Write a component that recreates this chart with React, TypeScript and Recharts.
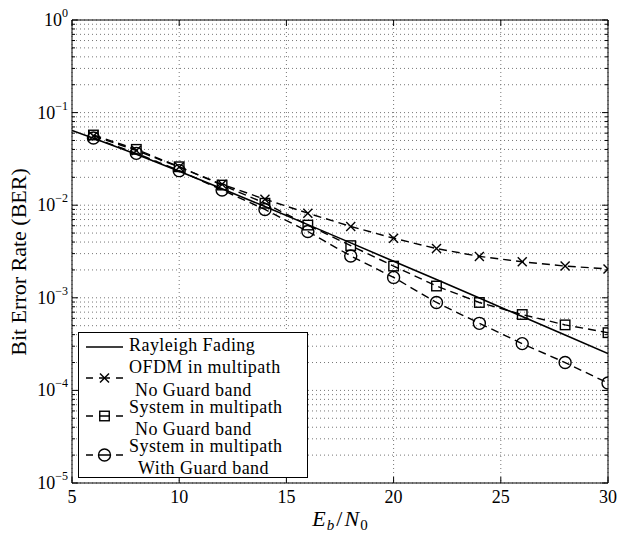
import { LineChart, Line, XAxis, YAxis, CartesianGrid, ReferenceLine } from "recharts";

const FONT = '"Liberation Serif", "Times New Roman", serif';

// chart box: plot area runs x 72..608, y 20..483
const W = 617;
const H = 534;
const PLOT_W = 536;
const PLOT_H = 463;

// Eb/N0 (dB) sample points for the simulated curves
const snrDb = [6, 8, 10, 12, 14, 16, 18, 20, 22, 24, 26, 28, 30];
const ofdmNoGuard = [0.056, 0.039, 0.0258, 0.0168, 0.0116, 0.0082, 0.0059, 0.0044, 0.0034, 0.0028, 0.00245, 0.0022, 0.00205];
const systemNoGuard = [0.0573, 0.0401, 0.026, 0.0165, 0.0105, 0.0061, 0.00366, 0.0022, 0.00134, 0.00089, 0.00066, 0.00051, 0.00042];
const systemGuard = [0.0532, 0.0363, 0.0236, 0.0146, 0.009, 0.0052, 0.00283, 0.00166, 0.00089, 0.00053, 0.00032, 0.0002, 0.00012];

// theoretical Rayleigh curve
const rayleighSnr = [5, 6, 8, 10, 12, 14, 16, 18, 20, 22, 24, 26, 28, 30];
const rayleighBer = [0.0642, 0.053, 0.0355, 0.0233, 0.01505, 0.00967, 0.00617, 0.00392, 0.00248, 0.00158, 0.000994, 0.000627, 0.000396, 0.00025];

const xTicks = [5, 10, 15, 20, 25, 30];
const decades = [1e-5, 1e-4, 1e-3, 1e-2, 1e-1];
const yTicks = [...decades.flatMap((d) => [1, 2, 3, 4, 5, 6, 7, 8, 9].map((m) => m * d)), 1];

const legendEntries = [
  { marker: "none", lines: ["Rayleigh Fading"] },
  { marker: "cross", lines: ["OFDM in multipath", "No Guard band"] },
  { marker: "square", lines: ["System in multipath", "No Guard band"] },
  { marker: "circle", lines: ["System in multipath", "With Guard band"] },
];

const toPoints = (xs: number[], ys: number[]) => xs.map((snr, i) => ({ snr, ber: ys[i] }));

function Marker({ kind, cx, cy }: { kind: string; cx: number; cy: number }) {
  if (kind === "cross") {
    return (
      <g stroke="#000" strokeWidth={1.4} fill="none">
        <line x1={cx - 4.5} y1={cy - 4.5} x2={cx + 4.5} y2={cy + 4.5} />
        <line x1={cx - 4.5} y1={cy + 4.5} x2={cx + 4.5} y2={cy - 4.5} />
      </g>
    );
  }
  if (kind === "square") {
    return <rect x={cx - 4.75} y={cy - 4.75} width={9.5} height={9.5} stroke="#000" strokeWidth={1.4} fill="none" />;
  }
  if (kind === "circle") {
    return <circle cx={cx} cy={cy} r={6} stroke="#000" strokeWidth={1.4} fill="none" />;
  }
  return null;
}

const dotOf = (kind: string) =>
  // eslint-disable-next-line @typescript-eslint/no-explicit-any
  (p: any) => (
    <g key={`${kind}-${p.index}`}>
      <Marker kind={kind} cx={p.cx} cy={p.cy} />
    </g>
  );

// eslint-disable-next-line @typescript-eslint/no-explicit-any
function XTick({ x, y, payload }: any) {
  return (
    <g>
      <line x1={x} y1={y} x2={x} y2={y - 6} stroke="#000" />
      <line x1={x} y1={y - PLOT_H} x2={x} y2={y - PLOT_H + 6} stroke="#000" />
      <text x={x} y={y + 20} textAnchor="middle" fontSize={18} fontFamily={FONT} fill="#000">
        {payload.value}
      </text>
    </g>
  );
}

// eslint-disable-next-line @typescript-eslint/no-explicit-any
function YTick({ x, y, payload }: any) {
  const lg = Math.log10(payload.value);
  const exp = Math.round(lg);
  const major = Math.abs(lg - exp) < 1e-6;
  const len = major ? 6 : 3;
  return (
    <g>
      <line x1={x} y1={y} x2={x + len} y2={y} stroke="#000" />
      <line x1={x + PLOT_W} y1={y} x2={x + PLOT_W - len} y2={y} stroke="#000" />
      {major && (
        <text x={x - 4} y={y + 6} textAnchor="end" fontSize={18} fontFamily={FONT} fill="#000">
          10
          <tspan dy={-9} fontSize={12}>
            {exp === 0 ? "0" : `\u2212${-exp}`}
          </tspan>
        </text>
      )}
    </g>
  );
}

function LegendBox() {
  const rows = [
    { sample: 347, text: [351] },
    { sample: 378, text: [373, 396] },
    { sample: 416, text: [413, 435] },
    { sample: 455, text: [452, 474] },
  ];
  const textX = [[129], [129, 135], [129, 135], [129, 138]];
  return (
    <svg width={W} height={H} style={{ position: "absolute", left: 0, top: 0, pointerEvents: "none" }}>
      <rect x={78.5} y={332.5} width={229} height={145} fill="#fff" stroke="#000" />
      {legendEntries.map((e, i) => {
        const r = rows[i];
        return (
          <g key={i}>
            {e.marker === "none" ? (
              <line x1={86} x2={123} y1={r.sample} y2={r.sample} stroke="#000" strokeWidth={1.6} />
            ) : (
              <>
                <line x1={86} x2={123} y1={r.sample} y2={r.sample} stroke="#000" strokeWidth={1.4} strokeDasharray="7 6 11 6 7" />
                <Marker kind={e.marker} cx={104.5} cy={r.sample} />
              </>
            )}
            {e.lines.map((t, j) => (
              <text
                key={j}
                x={textX[i][j]}
                y={r.text[j]}
                fontSize={18}
                letterSpacing={0.45}
                fontFamily={FONT}
                fill="#000"
              >
                {t}
              </text>
            ))}
          </g>
        );
      })}
    </svg>
  );
}

export default function App() {
  return (
    <div style={{ position: "relative", width: W, height: H, background: "#fff", fontFamily: FONT }}>
      <style>{"body{margin:0}"}</style>
      <LineChart width={W} height={H} margin={{ top: 20, right: 9, bottom: 0, left: 0 }}>
        <CartesianGrid stroke="#777" strokeDasharray="1 3" strokeWidth={1} />
        <XAxis
          type="number"
          dataKey="snr"
          domain={[5, 30]}
          ticks={xTicks}
          interval={0}
          allowDataOverflow
          height={51}
          tickSize={0}
          tickMargin={0}
          tickLine={false}
          axisLine={{ stroke: "#000" }}
          tick={<XTick />}
        />
        <YAxis
          type="number"
          scale="log"
          domain={[1e-5, 1]}
          ticks={yTicks}
          interval={0}
          allowDataOverflow
          width={72}
          tickSize={0}
          tickMargin={0}
          tickLine={false}
          axisLine={{ stroke: "#000" }}
          tick={<YTick />}
        />
        <ReferenceLine y={1} stroke="#000" />
        <ReferenceLine x={30} stroke="#000" />
        <Line
          data={toPoints(rayleighSnr, rayleighBer)}
          dataKey="ber"
          type="linear"
          stroke="#000"
          strokeWidth={1.6}
          dot={false}
          activeDot={false}
          isAnimationActive={false}
        />
        <Line
          data={toPoints(snrDb, ofdmNoGuard)}
          dataKey="ber"
          type="linear"
          stroke="#000"
          strokeWidth={1.4}
          strokeDasharray="8 5"
          dot={dotOf("cross")}
          activeDot={false}
          isAnimationActive={false}
        />
        <Line
          data={toPoints(snrDb, systemNoGuard)}
          dataKey="ber"
          type="linear"
          stroke="#000"
          strokeWidth={1.4}
          strokeDasharray="8 5"
          dot={dotOf("square")}
          activeDot={false}
          isAnimationActive={false}
        />
        <Line
          data={toPoints(snrDb, systemGuard)}
          dataKey="ber"
          type="linear"
          stroke="#000"
          strokeWidth={1.4}
          strokeDasharray="8 5"
          dot={dotOf("circle")}
          activeDot={false}
          isAnimationActive={false}
        />
      </LineChart>
      <svg width={W} height={H} style={{ position: "absolute", left: 0, top: 0, pointerEvents: "none" }}>
        <text
          x={26}
          y={262}
          transform="rotate(-90, 26, 262)"
          textAnchor="middle"
          fontSize={22}
          fontFamily={FONT}
          fill="#000"
        >
          Bit Error Rate (BER)
        </text>
        <text x={340} y={526} textAnchor="middle" fontSize={22} fontFamily={FONT} fill="#000">
          <tspan fontStyle="italic">E</tspan>
          <tspan fontStyle="italic" fontSize={15} dy={4} dx={1}>b</tspan>
          <tspan dy={-4} dx={2}>/</tspan>
          <tspan fontStyle="italic" dx={2}>N</tspan>
          <tspan fontSize={15} dy={4} dx={1}>0</tspan>
        </text>
      </svg>
      <LegendBox />
    </div>
  );
}
